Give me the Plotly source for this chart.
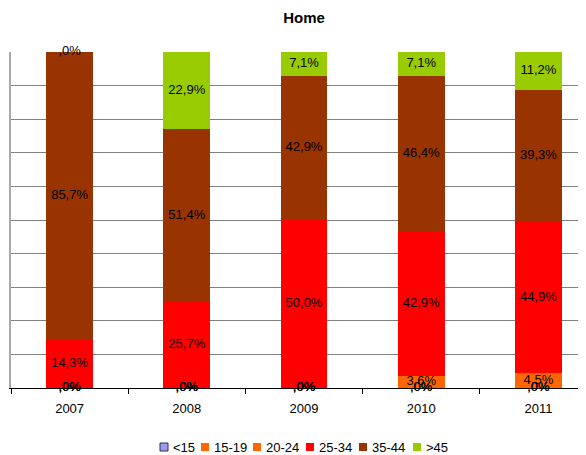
import plotly.graph_objects as go

years = ["2007", "2008", "2009", "2010", "2011"]
series_names = ["<15", "15-19", "20-24", "25-34", "35-44", ">45"]
v_lt15 = [0, 0, 0, 0, 0]
v_15_19 = [0, 0, 0, 0, 0]
v_20_24 = [0, 0, 0, 3.6, 4.5]
v_25_34 = [14.3, 25.7, 50.0, 42.9, 44.9]
v_35_44 = [85.7, 51.4, 42.9, 46.4, 39.3]
v_gt45 = [0, 22.9, 7.1, 7.1, 11.2]
colors = ["#9999FF", "#FF6600", "#FF6600", "#FF0000", "#993300", "#99CC00"]

all_vals = [v_lt15, v_15_19, v_20_24, v_25_34, v_35_44, v_gt45]

FONT = "Liberation Sans, Arial"

fig = go.Figure()
for name, vals, col in zip(series_names, all_vals, colors):
    fig.add_trace(go.Bar(
        x=years, y=vals, name=name, width=0.4, showlegend=False,
        marker=dict(color=col, line=dict(width=0)),
        hoverinfo="skip",
    ))

# value labels centred in each stacked segment
base = [0.0] * len(years)
lx, ly, lt = [], [], []
for vals in all_vals:
    for i, v in enumerate(vals):
        lx.append(years[i])
        ly.append(base[i] + v / 2)
        lt.append(("%.1f" % v).replace(".", ",").lstrip("0") + "%")
        base[i] += v
fig.add_trace(go.Scatter(
    x=lx, y=ly, text=lt, mode="text", showlegend=False, hoverinfo="skip",
    textfont=dict(family=FONT, size=13, color="#000000"),
    cliponaxis=False,
))

# page offset (body margin 8px) compensated in margins
L, T, B, H, W = 3, 44, 75, 455, 586
plot_w = W - L
plot_h = H - T - B

# manual legend (compact, as in the reference)
legend_left_px = [160, 201, 253, 306, 359, 413]   # page pixel left edges of symbols
legend_y_px = 447
shapes = []
annotations = []
for name, col, px in zip(series_names, colors, legend_left_px):
    xc = (px - 8 - L + 4) / plot_w
    yc = (H - B - (legend_y_px - 8)) / plot_h
    shapes.append(dict(
        type="rect", xref="paper", yref="paper", xsizemode="pixel", ysizemode="pixel",
        xanchor=xc, yanchor=yc, x0=-4, x1=4, y0=-4, y1=4,
        fillcolor=col,
        line=dict(color="#333333" if name == "<15" else col, width=1 if name == "<15" else 0),
    ))
    annotations.append(dict(
        text=name, xref="paper", yref="paper", x=xc, y=yc, xanchor="left", yanchor="middle",
        xshift=7, showarrow=False, font=dict(family=FONT, size=13, color="#000000"),
    ))

fig.update_layout(
    barmode="stack",
    width=W, height=H,
    margin=dict(l=L, r=0, t=T, b=B),
    paper_bgcolor="white", plot_bgcolor="white",
    font=dict(family=FONT, size=13, color="#000000"),
    title=dict(text="<b>Home</b>", x=296 / W, xanchor="center", y=1 - 10 / H, yanchor="middle",
               font=dict(size=15, family=FONT, color="#000000")),
    showlegend=False,
    shapes=shapes,
    annotations=annotations,
    xaxis=dict(type="category", range=[-0.5, -0.5 + plot_w / 117.2], tickson="boundaries",
               ticks="outside", ticklen=5, tickcolor="#000000",
               showline=True, linecolor="#000000", linewidth=1,
               showgrid=False, tickfont=dict(size=13), ticklabelstandoff=8),
    yaxis=dict(range=[0, 100], dtick=10, showticklabels=False,
               showgrid=True, gridcolor="#808080", gridwidth=1,
               showline=True, linecolor="#AAAAAA", linewidth=2,
               zeroline=False, ticks=""),
)

fig.write_html("out.html")
